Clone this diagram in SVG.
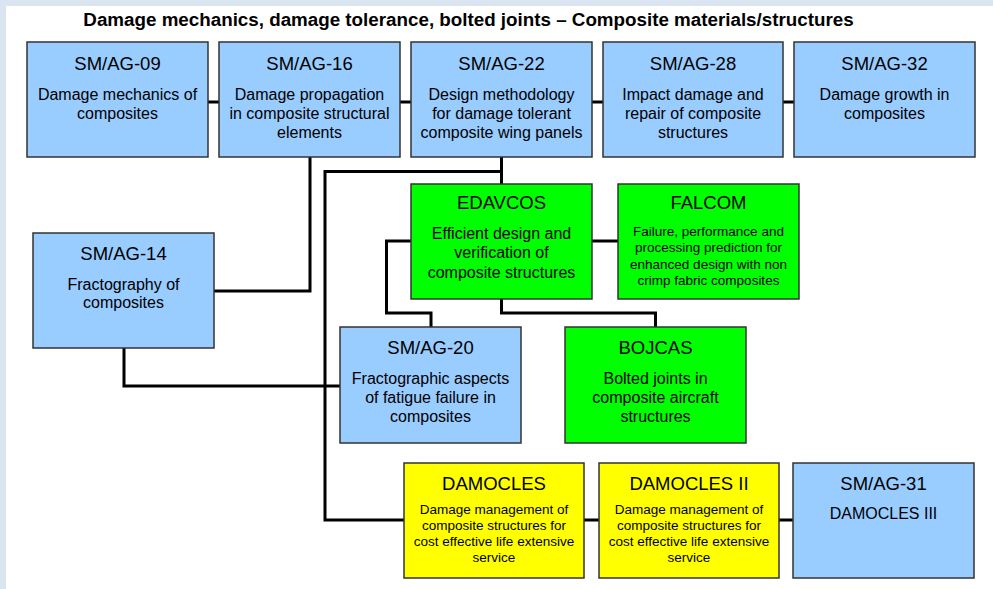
<svg xmlns="http://www.w3.org/2000/svg" width="993" height="589" viewBox="0 0 993 589">
<style>
.bg{fill:#dbe5f1}
.box{stroke:#333;stroke-width:1.5}
.blue{fill:#99ccff}
.green{fill:#00ff00}
.yellow{fill:#ffff00}
text{font-family:"Liberation Sans",Arial,sans-serif;fill:#000;text-anchor:middle}
.title{font-size:18.8px;font-weight:bold}
.h{font-size:18.5px}
.b{font-size:16px}
.s{font-size:13.5px}
.conn path{fill:none;stroke:#000;stroke-width:3}
</style>
<rect x="0" y="0" width="993" height="589" fill="#fff"/>
<rect class="bg" x="0" y="0" width="993" height="6"/>
<rect class="bg" x="0" y="0" width="6" height="589"/>
<text class="title" x="468.5" y="26">Damage mechanics, damage tolerance, bolted joints – Composite materials/structures</text>
<g class="conn" id="connectors">
<path d="M208,102H219M400,102H411M592,102H603M783,102H794"/>
<path d="M310,157V291H214"/>
<path d="M501.5,157V184"/>
<path d="M501.5,171.5H325V520H404"/>
<path d="M584,520H599M779,520H793"/>
<path d="M411,241H386.5V313H431V327"/>
<path d="M592,241H618"/>
<path d="M501.5,299V313H655.5V327"/>
<path d="M124,348V386H340"/>
</g>
<g id="smag09">
<rect class="box blue" x="27" y="42" width="181" height="115"/>
<text class="h" x="117.5" y="70">SM/AG-09</text>
<text class="b" x="117.5" y="100">Damage mechanics of</text>
<text class="b" x="117.5" y="118.5">composites</text>
</g>
<g id="smag16">
<rect class="box blue" x="219" y="42" width="181" height="115"/>
<text class="h" x="309.5" y="70">SM/AG-16</text>
<text class="b" x="309.5" y="100">Damage propagation</text>
<text class="b" x="309.5" y="118.5">in composite structural</text>
<text class="b" x="309.5" y="137.5">elements</text>
</g>
<g id="smag22">
<rect class="box blue" x="411" y="42" width="181" height="115"/>
<text class="h" x="501.5" y="70">SM/AG-22</text>
<text class="b" x="501.5" y="100">Design methodology</text>
<text class="b" x="501.5" y="118.5">for damage tolerant</text>
<text class="b" x="501.5" y="137.5">composite wing panels</text>
</g>
<g id="smag28">
<rect class="box blue" x="603" y="42" width="180" height="115"/>
<text class="h" x="693" y="70">SM/AG-28</text>
<text class="b" x="693" y="100">Impact damage and</text>
<text class="b" x="693" y="118.5">repair of composite</text>
<text class="b" x="693" y="137.5">structures</text>
</g>
<g id="smag32">
<rect class="box blue" x="794" y="42" width="181" height="115"/>
<text class="h" x="884.5" y="70">SM/AG-32</text>
<text class="b" x="884.5" y="100">Damage growth in</text>
<text class="b" x="884.5" y="118.5">composites</text>
</g>
<g id="smag14">
<rect class="box blue" x="33" y="233" width="181" height="115"/>
<text class="h" x="123.5" y="259.5">SM/AG-14</text>
<text class="b" x="123.5" y="289.5">Fractography of</text>
<text class="b" x="123.5" y="308">composites</text>
</g>
<g id="edavcos">
<rect class="box green" x="411" y="184" width="181" height="115"/>
<text class="h" x="501.5" y="209">EDAVCOS</text>
<text class="b" x="501.5" y="238.5">Efficient design and</text>
<text class="b" x="501.5" y="258">verification of</text>
<text class="b" x="501.5" y="278">composite structures</text>
</g>
<g id="falcom">
<rect class="box green" x="618" y="184" width="181" height="115"/>
<text class="h" x="708.5" y="209">FALCOM</text>
<text class="s" x="708.5" y="235.5">Failure, performance and</text>
<text class="s" x="708.5" y="252">processing prediction for</text>
<text class="s" x="708.5" y="268.5">enhanced design with non</text>
<text class="s" x="708.5" y="284.5">crimp fabric composites</text>
</g>
<g id="smag20">
<rect class="box blue" x="340" y="327" width="181" height="116"/>
<text class="h" x="430.5" y="354">SM/AG-20</text>
<text class="b" x="430.5" y="384">Fractographic aspects</text>
<text class="b" x="430.5" y="403">of fatigue failure in</text>
<text class="b" x="430.5" y="422">composites</text>
</g>
<g id="bojcas">
<rect class="box green" x="565" y="327" width="181" height="116"/>
<text class="h" x="655.5" y="354">BOJCAS</text>
<text class="b" x="655.5" y="384">Bolted joints in</text>
<text class="b" x="655.5" y="403">composite aircraft</text>
<text class="b" x="655.5" y="422">structures</text>
</g>
<g id="damocles">
<rect class="box yellow" x="404" y="463" width="180" height="115"/>
<text class="h" x="494" y="490">DAMOCLES</text>
<text class="s" x="494" y="514">Damage management of</text>
<text class="s" x="494" y="530">composite structures for</text>
<text class="s" x="494" y="546">cost effective life extensive</text>
<text class="s" x="494" y="562">service</text>
</g>
<g id="damocles2">
<rect class="box yellow" x="599" y="463" width="180" height="115"/>
<text class="h" x="689" y="490">DAMOCLES II</text>
<text class="s" x="689" y="514">Damage management of</text>
<text class="s" x="689" y="530">composite structures for</text>
<text class="s" x="689" y="546">cost effective life extensive</text>
<text class="s" x="689" y="562">service</text>
</g>
<g id="smag31">
<rect class="box blue" x="793" y="463" width="181" height="115"/>
<text class="h" x="883.5" y="490">SM/AG-31</text>
<text class="b" x="883.5" y="519">DAMOCLES III</text>
</g>
</svg>
